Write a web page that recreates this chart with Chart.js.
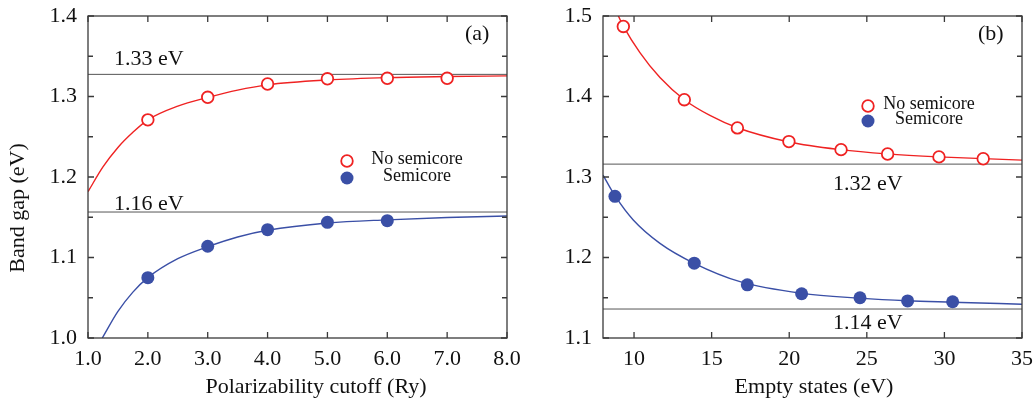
<!DOCTYPE html>
<html>
<head>
<meta charset="utf-8">
<script src="https://cdn.jsdelivr.net/npm/chart.js@4.4.1/dist/chart.umd.min.js"></script>
<style>
    body { margin: 0; background: #fff; width: 1035px; height: 401px; position: relative; overflow: hidden; }
    .panel { position: absolute; top: 0; height: 401px; }
    #wrapA { left: 0; width: 535px; }
    #wrapB { left: 515px; width: 520px; }
</style>
</head>
<body>
<div class="panel" id="wrapA"><canvas id="chartA"></canvas></div>
<div class="panel" id="wrapB"><canvas id="chartB"></canvas></div>
<script>
// ===== Panel (a): band gap vs polarizability cutoff =====
const cutoffNoSemi = [2, 3, 4, 5, 6, 7];
const gapNoSemiA = [1.271, 1.299, 1.3155, 1.322, 1.3226, 1.3226];
const cutoffSemi = [2, 3, 4, 5, 6];
const gapSemiA = [1.075, 1.114, 1.1346, 1.1437, 1.1457];
// fitted curves
const fitCutoffRed = [1.0, 1.25, 1.5, 1.75, 2.0, 2.5, 3.0, 3.5, 4, 5, 6, 7, 8];
const fitNoSemiA = [1.1817, 1.2125, 1.2367, 1.2555, 1.271, 1.288, 1.2988, 1.308, 1.3145, 1.3205, 1.3235, 1.3248, 1.3256];
const fitCutoffBlue = [1.239, 1.5, 1.75, 2.0, 2.5, 3.0, 3.5, 4, 5, 6, 7, 8];
const fitSemiA = [1.0, 1.033, 1.057, 1.075, 1.0985, 1.1134, 1.1255, 1.1338, 1.1428, 1.1468, 1.1496, 1.1516];
const limitsA = [1.3275, 1.1565];
const limitLabelsA = ['1.33 eV', '1.16 eV'];
const xTicksA = [1, 2, 3, 4, 5, 6, 7, 8];
const yTicksA = [1.0, 1.1, 1.2, 1.3, 1.4];

// ===== Panel (b): band gap vs empty states =====
const emptyNoSemi = [9.31, 13.24, 16.66, 19.98, 23.34, 26.34, 29.65, 32.5];
const gapNoSemiB = [1.487, 1.396, 1.361, 1.344, 1.334, 1.3286, 1.325, 1.3227];
const emptySemi = [8.77, 13.88, 17.3, 20.8, 24.56, 27.63, 30.53];
const gapSemiB = [1.276, 1.193, 1.166, 1.155, 1.150, 1.146, 1.145];
const fitEmptyRed = [8.99, 9.31, 10.38, 11.67, 13.24, 14.89, 16.66, 20, 23.3, 26.3, 29.6, 32.5, 35];
const fitNoSemiB = [1.5, 1.4875, 1.4545, 1.4235, 1.396, 1.3765, 1.3612, 1.3435, 1.334, 1.3287, 1.325, 1.3228, 1.321];
const fitEmptyBlue = [8.0, 8.77, 9.95, 11.67, 13.88, 16.83, 20.8, 24.5, 27.6, 30.5, 35];
const fitSemiB = [1.3025, 1.2768, 1.2466, 1.2176, 1.1928, 1.1700, 1.1555, 1.1495, 1.1462, 1.1445, 1.1420];
const limitsB = [1.316, 1.136];
const limitLabelsB = ['1.32 eV', '1.14 eV'];
const xTicksB = [10, 15, 20, 25, 30, 35];
const yTicksB = [1.1, 1.2, 1.3, 1.4, 1.5];

const SERIF = "'Liberation Serif', 'Times New Roman', serif";
const RED = '#ef2222';
const BLUE = '#3a4fa6';
const FRAME = '#3a3a3a';

const pts = (xs, ys) => xs.map((x, i) => ({ x, y: ys[i] }));

// frame + inward ticks on all four sides
const framePlugin = {
    id: 'frame',
    afterDraw(chart, args, opts) {
        const { ctx, chartArea: a, scales: { x, y } } = chart;
        ctx.save();
        ctx.strokeStyle = FRAME;
        ctx.lineWidth = 1.3;
        ctx.strokeRect(a.left, a.top, a.right - a.left, a.bottom - a.top);
        ctx.beginPath();
        x.ticks.forEach(t => {
            const px = x.getPixelForValue(t.value);
            ctx.moveTo(px, a.bottom); ctx.lineTo(px, a.bottom - 6);
            ctx.moveTo(px, a.top); ctx.lineTo(px, a.top + 6);
        });
        y.ticks.forEach(t => {
            const py = y.getPixelForValue(t.value);
            ctx.moveTo(a.left, py); ctx.lineTo(a.left + 6, py);
            ctx.moveTo(a.right, py); ctx.lineTo(a.right - 6, py);
        });
        // minor y ticks halfway between majors
        for (let i = 0; i < y.ticks.length - 1; i++) {
            const py = y.getPixelForValue((y.ticks[i].value + y.ticks[i + 1].value) / 2);
            ctx.moveTo(a.left, py); ctx.lineTo(a.left + 5, py);
            ctx.moveTo(a.right, py); ctx.lineTo(a.right - 5, py);
        }
        ctx.stroke();
        ctx.restore();
    }
};

// text labels, legend and axis titles
const notesPlugin = {
    id: 'notes',
    afterDraw(chart, args, opts) {
        const ctx = chart.ctx;
        ctx.save();
        ctx.fillStyle = '#111';
        (opts.texts || []).forEach(t => {
            ctx.font = `${t.size}px ${SERIF}`;
            ctx.textAlign = t.align || 'left';
            ctx.textBaseline = t.baseline || 'alphabetic';
            if (t.rotate) {
                ctx.save();
                ctx.translate(t.x, t.y);
                ctx.rotate(-Math.PI / 2);
                ctx.fillText(t.text, 0, 0);
                ctx.restore();
            } else {
                ctx.fillText(t.text, t.x, t.y);
            }
        });
        const lg = opts.legend;
        if (lg) {
            ctx.lineWidth = 1.8;
            ctx.strokeStyle = RED;
            ctx.fillStyle = '#fff';
            ctx.beginPath(); ctx.arc(lg.mx, lg.y1, 5.8, 0, Math.PI * 2); ctx.fill(); ctx.stroke();
            ctx.fillStyle = BLUE;
            ctx.beginPath(); ctx.arc(lg.mx, lg.y2, 6.5, 0, Math.PI * 2); ctx.fill();
            ctx.fillStyle = '#111';
            ctx.font = `18px ${SERIF}`;
            ctx.textAlign = 'center';
            ctx.textBaseline = 'middle';
            ctx.fillText('No semicore', lg.tx, lg.y1 - 2);
            ctx.fillText('Semicore', lg.tx, lg.y2 - 2);
        }
        ctx.restore();
    }
};

function makeChart(id, cfg) {
    const datasets = [
        {
            label: 'No semicore', data: pts(cfg.xNo, cfg.yNo), order: 0,
            pointStyle: 'circle', pointRadius: 5.8, borderWidth: 1.8,
            borderColor: RED, backgroundColor: '#fff', showLine: false
        },
        {
            label: 'Semicore', data: pts(cfg.xSemi, cfg.ySemi), order: 0,
            pointStyle: 'circle', pointRadius: 6.5, borderWidth: 0,
            borderColor: BLUE, backgroundColor: BLUE, showLine: false
        },
        {
            label: 'fit no semicore', data: pts(cfg.fitXNo, cfg.fitYNo), order: 1,
            showLine: true, borderColor: RED, borderWidth: 1.4, pointRadius: 0,
            cubicInterpolationMode: 'monotone'
        },
        {
            label: 'fit semicore', data: pts(cfg.fitXSemi, cfg.fitYSemi), order: 1,
            showLine: true, borderColor: BLUE, borderWidth: 1.4, pointRadius: 0,
            cubicInterpolationMode: 'monotone'
        }
    ];
    cfg.limits.forEach(v => {
        datasets.push({
            label: 'limit', data: [{ x: cfg.xMin, y: v }, { x: cfg.xMax, y: v }], order: 2,
            showLine: true, borderColor: '#555', borderWidth: 1, pointRadius: 0
        });
    });

    return new Chart(document.getElementById(id), {
        type: 'scatter',
        data: { datasets },
        options: {
            responsive: true,
            maintainAspectRatio: false,
            animation: false,
            layout: { padding: { top: 16, right: cfg.padRight, left: 0, bottom: 0 } },
            plugins: {
                legend: { display: false },
                tooltip: { enabled: false },
                notes: { texts: cfg.texts, legend: cfg.legend }
            },
            scales: {
                x: {
                    type: 'linear', min: cfg.xMin, max: cfg.xMax,
                    grid: { display: false, drawTicks: false },
                    border: { display: false },
                    ticks: {
                        font: { family: SERIF, size: 22 }, color: '#111', padding: 8,
                        autoSkip: false, maxRotation: 0,
                        callback: cfg.xFmt
                    },
                    afterBuildTicks: s => { s.ticks = cfg.xTicks.map(v => ({ value: v })); },
                    afterFit: s => { s.height = 63; s.paddingLeft = 0; s.paddingRight = 0; }
                },
                y: {
                    type: 'linear', min: cfg.yMin, max: cfg.yMax,
                    grid: { display: false, drawTicks: false },
                    border: { display: false },
                    ticks: {
                        font: { family: SERIF, size: 22 }, color: '#111', padding: 11,
                        callback: v => v.toFixed(1)
                    },
                    afterBuildTicks: s => { s.ticks = cfg.yTicks.map(v => ({ value: v })); },
                    afterFit: s => { s.width = 88; s.paddingTop = 0; s.paddingBottom = 0; }
                }
            }
        },
        plugins: [framePlugin, notesPlugin]
    });
}

makeChart('chartA', {
    xNo: cutoffNoSemi, yNo: gapNoSemiA, xSemi: cutoffSemi, ySemi: gapSemiA,
    fitXNo: fitCutoffRed, fitYNo: fitNoSemiA, fitXSemi: fitCutoffBlue, fitYSemi: fitSemiA,
    limits: limitsA, xMin: 1, xMax: 8, yMin: 1.0, yMax: 1.4,
    xTicks: xTicksA, yTicks: yTicksA, xFmt: v => v.toFixed(1), padRight: 28,
    texts: [
        { text: limitLabelsA[0], x: 114, y: 65, size: 22 },
        { text: limitLabelsA[1], x: 114, y: 210, size: 22 },
        { text: '(a)', x: 465, y: 40, size: 22 },
        { text: 'Band gap (eV)', x: 24, y: 208, size: 22, align: 'center', rotate: true },
        { text: 'Polarizability cutoff (Ry)', x: 316, y: 393, size: 22, align: 'center' }
    ],
    legend: { mx: 347, y1: 161, y2: 178, tx: 417 }
});

makeChart('chartB', {
    xNo: emptyNoSemi, yNo: gapNoSemiB, xSemi: emptySemi, ySemi: gapSemiB,
    fitXNo: fitEmptyRed, fitYNo: fitNoSemiB, fitXSemi: fitEmptyBlue, fitYSemi: fitSemiB,
    limits: limitsB, xMin: 8, xMax: 35, yMin: 1.1, yMax: 1.5,
    xTicks: xTicksB, yTicks: yTicksB, xFmt: v => String(v), padRight: 13,
    texts: [
        { text: limitLabelsB[0], x: 318, y: 190, size: 22 },
        { text: limitLabelsB[1], x: 318, y: 329, size: 22 },
        { text: '(b)', x: 463, y: 40, size: 22 },
        { text: 'Empty states (eV)', x: 299, y: 393, size: 22, align: 'center' }
    ],
    legend: { mx: 353, y1: 106, y2: 121, tx: 414 }
});
</script>
</body>
</html>
